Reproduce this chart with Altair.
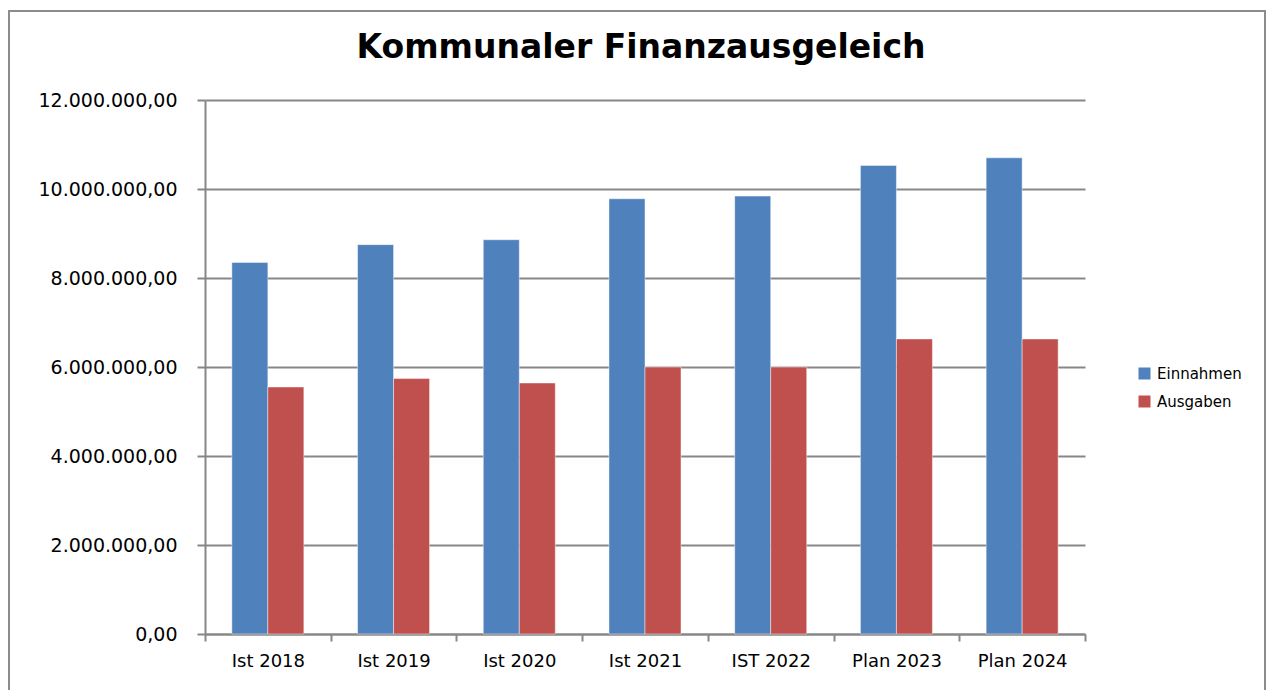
import altair as alt
import pandas as pd

title_text = "Kommunaler Finanzausgeleich"
categories = ["Ist 2018", "Ist 2019", "Ist 2020", "Ist 2021", "IST 2022", "Plan 2023", "Plan 2024"]
einnahmen = [8350000, 8750000, 8860000, 9780000, 9840000, 10530000, 10700000]
ausgaben = [5550000, 5740000, 5640000, 6000000, 6000000, 6630000, 6630000]
series = ["Einnahmen", "Ausgaben"]
colors = ["#4F81BD", "#C0504D"]
y_ticks = [0, 2000000, 4000000, 6000000, 8000000, 10000000, 12000000]

rows = []
for c, e, a in zip(categories, einnahmen, ausgaben):
    rows.append({"Kategorie": c, "Reihe": "Einnahmen", "Wert": e})
    rows.append({"Kategorie": c, "Reihe": "Ausgaben", "Wert": a})
df = pd.DataFrame(rows)

W, H = 880, 534
GRID = "#878787"

bars = alt.Chart(df).mark_bar(stroke="#FFFFFF", strokeOpacity=0.45, strokeWidth=1).encode(
    x=alt.X(
        "Kategorie:N",
        sort=categories,
        scale=alt.Scale(paddingInner=0, paddingOuter=0),
        axis=alt.Axis(
            title=None, labelAngle=0, labelFont="DejaVu Sans", labelFontSize=18,
            labelColor="#000000", labelPadding=11, domainColor=GRID, domainWidth=2,
            tickColor=GRID, tickWidth=2, tickSize=7, tickBand="extent", grid=False,
        ),
    ),
    xOffset=alt.XOffset("Reihe:N", sort=series,
                        scale=alt.Scale(paddingInner=0, paddingOuter=0.746)),
    y=alt.Y(
        "Wert:Q",
        scale=alt.Scale(domain=[0, 12000000]),
        axis=alt.Axis(
            title=None, values=y_ticks, format=",.2f", labelFont="DejaVu Sans",
            labelFontSize=19, labelColor="#000000", labelPadding=20,
            domainColor=GRID, domainWidth=2, tickColor=GRID, tickWidth=2, tickSize=8,
            gridColor=GRID, gridWidth=2,
        ),
    ),
    color=alt.Color(
        "Reihe:N",
        sort=series,
        scale=alt.Scale(domain=series, range=colors),
        legend=alt.Legend(
            title=None, orient="none", legendX=932, legendY=266, padding=0,
            symbolType="square", symbolSize=144, symbolStrokeWidth=0,
            labelFont="DejaVu Sans", labelFontSize=15, labelColor="#000000",
            labelOffset=5, rowPadding=12,
        ),
    ),
)

frame = alt.Chart(df).mark_rect(fill=None, stroke="#8C8C8C", strokeWidth=2, clip=False).encode(
    x=alt.value(-196), x2=alt.value(1060), y=alt.value(-89), y2=alt.value(600)
)

title = alt.Chart(pd.DataFrame({"t": [title_text]})).mark_text(
    font="DejaVu Sans", fontSize=33, fontWeight="bold", color="#000000",
    align="center", baseline="alphabetic", clip=False,
).encode(text="t:N", x=alt.value(436), y=alt.value(-42))

chart = alt.layer(bars, frame, title).properties(
    width=W, height=H,
    autosize=alt.AutoSizeParams(type="none"),
    padding={"left": 205, "top": 100, "right": 186, "bottom": 56},
).configure(
    locale={"number": {"decimal": ",", "thousands": ".", "grouping": [3], "currency": ["", " €"]}},
).configure_view(stroke=None)

chart.save("out.html", embed_options={"renderer": "svg", "actions": False})
